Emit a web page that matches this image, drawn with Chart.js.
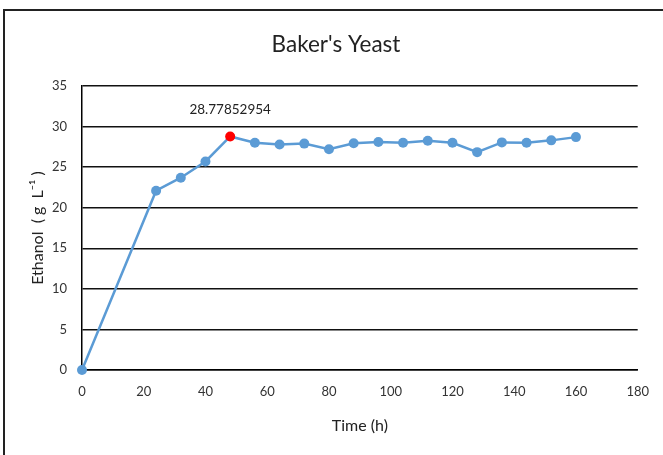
<!DOCTYPE html>
<html>
<head>
<meta charset="utf-8">
<script src="https://cdn.jsdelivr.net/npm/chart.js@4"></script>
<style>
  html, body { margin: 0; padding: 0; background: #fff; }
  #wrap { position: absolute; left: 0; top: 0; width: 663px; height: 455px; }
</style>
</head>
<body>
<div id="wrap"><canvas id="chart"></canvas></div>
<script>
// ── Data ──────────────────────────────────────────────
const timeHours = [0, 24, 32, 40, 48, 56, 64, 72, 80, 88, 96, 104, 112, 120, 128, 136, 144, 152, 160];
const ethanol = [0, 22.1, 23.7, 25.7, 28.77852954, 28.0, 27.8, 27.9, 27.2, 27.95, 28.1, 28.0, 28.25, 28.0, 26.85, 28.05, 28.0, 28.3, 28.7];
const highlightIndex = 4;
const xTicks = [0, 20, 40, 60, 80, 100, 120, 140, 160, 180];
const yTicks = [0, 5, 10, 15, 20, 25, 30, 35];
const chartTitle = "Baker's Yeast";

const blue = '#5b9bd5';
const red = '#ff0000';
const font = 'Lato, "Open Sans", sans-serif';

const points = timeHours.map((t, i) => ({ x: t, y: ethanol[i] }));
const pointColors = ethanol.map((_, i) => (i === highlightIndex ? red : blue));

// outer frame (only top + left edge show in the source) and the title,
// which is centred on the whole frame rather than on the plot
const framePlugin = {
  id: 'frame',
  beforeDraw(chart) {
    const { ctx } = chart;
    ctx.save();
    ctx.fillStyle = '#fff';
    ctx.fillRect(0, 0, chart.width, chart.height);
    ctx.strokeStyle = '#222';
    ctx.lineWidth = 2;
    ctx.beginPath();
    ctx.moveTo(4, chart.height);
    ctx.lineTo(4, 10);
    ctx.lineTo(chart.width, 10);
    ctx.stroke();

    ctx.font = '22.5px ' + font;
    ctx.fillStyle = '#222';
    ctx.textAlign = 'center';
    ctx.textBaseline = 'middle';
    ctx.fillText(chartTitle, 336, 45);
    ctx.restore();
  },
};

// value label above the highlighted point
const labelPlugin = {
  id: 'pointLabel',
  afterDatasetsDraw(chart) {
    const { ctx } = chart;
    const el = chart.getDatasetMeta(0).data[highlightIndex];
    if (!el) return;
    ctx.save();
    ctx.font = '13.5px ' + font;
    ctx.fillStyle = '#222';
    ctx.textAlign = 'center';
    ctx.textBaseline = 'middle';
    ctx.fillText(String(ethanol[highlightIndex]), el.x, el.y - 27);
    ctx.restore();
  },
};

new Chart(document.getElementById('chart'), {
  type: 'scatter',
  data: {
    datasets: [{
      data: points,
      showLine: true,
      clip: false,
      borderColor: blue,
      borderWidth: 2.5,
      pointRadius: 5,
      pointBackgroundColor: pointColors,
      pointBorderColor: pointColors,
      pointBorderWidth: 0,
    }],
  },
  options: {
    responsive: true,
    maintainAspectRatio: false,
    animation: false,
    layout: { padding: { left: 0, right: 25, top: 86, bottom: 0 } },
    plugins: {
      legend: { display: false },
      tooltip: { enabled: false },
      title: { display: false },
    },
    scales: {
      x: {
        type: 'linear',
        min: 0,
        max: 180,
        afterBuildTicks: (axis) => { axis.ticks = xTicks.map((v) => ({ value: v })); },
        grid: { display: false, drawTicks: false },
        border: { display: true, color: '#000', width: 1.5 },
        ticks: { color: '#333', padding: 14, font: { family: font, size: 13 } },
        title: {
          display: true,
          text: 'Time (h)',
          color: '#222',
          font: { family: font, size: 16 },
          padding: { top: 0, bottom: 20 },
        },
        afterFit: (axis) => { axis.height = 85; },
      },
      y: {
        min: 0,
        max: 35,
        afterBuildTicks: (axis) => { axis.ticks = yTicks.map((v) => ({ value: v })); },
        grid: { color: '#111', lineWidth: 1.4, drawTicks: false },
        border: { display: true, color: '#000', width: 1.5 },
        ticks: { color: '#333', padding: 15, font: { family: font, size: 13 } },
        title: {
          display: true,
          text: 'Ethanol  ( g  L⁻¹ )',
          color: '#222',
          font: { family: font, size: 16 },
          padding: { top: 28, bottom: 0 },
        },
        afterFit: (axis) => { axis.width = 82; },
      },
    },
  },
  plugins: [framePlugin, labelPlugin],
});
</script>
</body>
</html>
